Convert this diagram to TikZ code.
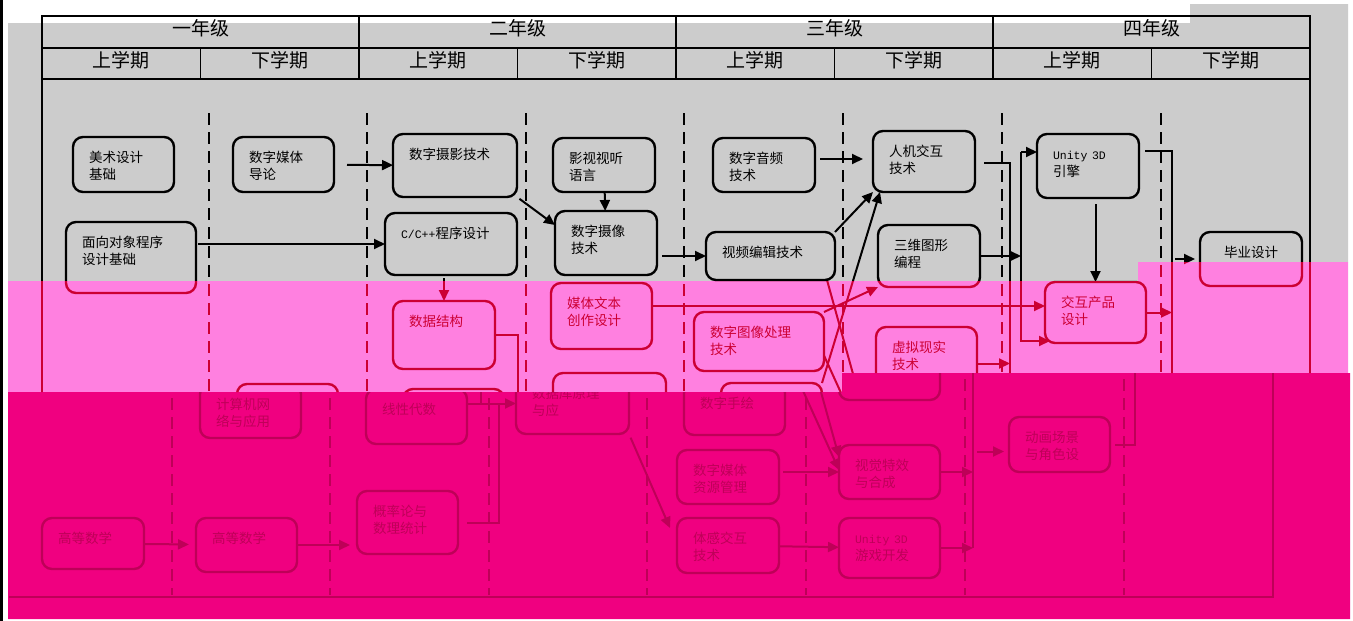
\documentclass[tikz,border=0pt]{standalone}
\usepackage{fontspec}
\setmainfont{Noto Sans CJK SC}
\newfontfamily\monofont{Liberation Mono}
\usetikzlibrary{arrows.meta}

\definecolor{bandgray}{RGB}{204,204,204}
\definecolor{bandpink}{RGB}{255,128,224}
\definecolor{bandmag}{RGB}{240,0,128}
\definecolor{inkpink}{RGB}{204,0,51}
\definecolor{inkmag}{RGB}{190,0,88}
\colorlet{ink}{black}

\newcommand\chartband{1}
\newcommand\bandtext[2]{\ifnum\chartband=#1\relax#2\fi}
\newcommand\monotext[1]{{\monofont\fontsize{11.5}{17.5}\selectfont #1}}

\newcommand\drawchart{%
  % frame and header
  \draw[frame_style] (42,16) rectangle (1310,597);
  \draw[grid_style] (42,48) -- (1310,48);
  \draw[grid_style] (42,79) -- (1310,79);
  \foreach \x in {359,676,993} \draw[grid_style] (\x,16) -- (\x,79);
  \foreach \x in {200.5,517.5,834.5,1151.5} \draw[grid_style] (\x,48) -- (\x,79);
  \foreach \grade [count=\i] in {一年级,二年级,三年级,四年级}
    \node[head_style] (year\i) at ({200.5+317*(\i-1)},28) {\bandtext1{\grade}};
  \foreach \grade [count=\i] in {上学期,下学期,上学期,下学期,上学期,下学期,上学期,下学期}
    \node[head_style] (term\i) at ({42+158.5*(\i-0.5)},60) {\bandtext1{\grade}};
  \foreach \x in {209,367,526,684,843,1002,1161} \draw[dash_style] (\x,113) -- (\x,595);
  % courses
  \node[course_style, text width=69pt, text depth=30pt] (meishu) at (73,137) {\bandtext1{美术设计\\基础}};
  \node[course_style, text width=69pt, text depth=30pt] (meiti) at (233,137) {\bandtext1{数字媒体\\导论}};
  \node[course_style, text width=92pt, text depth=38pt] (sheying) at (393,134) {\bandtext1{数字摄影技术}};
  \node[course_style, text width=98pt, text depth=46pt] (mianxiang) at (66,222) {\bandtext1{面向对象程序\\设计基础}};
  \node[course_style, text width=100pt, text depth=37pt] (cpp) at (385,213) {\bandtext1{\monotext{C/C++}程序设计}};
  \node[course_style, text width=70pt, text depth=29pt] (shiting) at (553,138) {\bandtext1{影视视听\\语言}};
  \node[course_style, text width=70pt, text depth=39pt] (shexiang) at (555,211) {\bandtext1{数字摄像\\技术}};
  \node[course_style, text width=70pt, text depth=29pt] (yinpin) at (713,138) {\bandtext1{数字音频\\技术}};
  \node[course_style, text width=97pt, text depth=23pt] (bianji) at (706,232) {\bandtext1{视频编辑技术}};
  \node[course_style, text width=70pt, text depth=36pt] (renji) at (873,131) {\bandtext1{人机交互\\技术}};
  \node[course_style, text width=70pt, text depth=37pt] (sanwei) at (878,225) {\bandtext1{三维图形\\编程}};
  \node[course_style, text width=70pt, text depth=39pt] (unity) at (1037,134) {\bandtext1{\monotext{Unity 3D}\\引擎}};
  \node[course_style, text width=70pt, text depth=29pt, align=center] (biye) at (1200,232) {\bandtext1{毕业设计}};
  \node[course_style, text width=70pt, text depth=43pt] (shuju) at (393,301) {\bandtext2{数据结构}};
  \node[course_style, text width=69pt, text depth=41pt] (wenben) at (551,283) {\bandtext2{媒体文本\\创作设计}};
  \node[course_style, text width=98pt, text depth=34pt] (tuxiang) at (694,312) {\bandtext2{数字图像处理\\技术}};
  \node[course_style, text width=69pt, text depth=48pt] (xuni) at (876,327) {\bandtext2{虚拟现实\\技术}};
  \node[course_style, text width=69pt, text depth=36pt] (jiaohu) at (1045,282) {\bandtext2{交互产品\\设计}};
  \node[course_style, text width=69pt, text depth=29pt] (jisuanji) at (237,384) {\bandtext3{计算机网\\络与应用}};
  \node[course_style, text width=69pt, text depth=30pt] (xianxing) at (403,389) {\bandtext3{线性代数}};
  \node[course_style, text width=81pt, text depth=36pt] (shujuku) at (553,373) {\bandtext3{数据库原理\\与应}};
  \node[course_style, text width=69pt, text depth=27pt] (shouhui) at (721,383) {\bandtext3{数字手绘}};
  \node[course_style, text width=70pt, text depth=26pt] (gaoshu1) at (79,518) {\bandtext3{高等数学}};
  \node[course_style, text width=69pt, text depth=29pt] (gaoshu2) at (233,518) {\bandtext3{高等数学}};
  \node[course_style, text width=69pt, text depth=38pt] (gailv) at (394,491) {\bandtext3{概率论与\\数理统计}};
  \node[course_style, text width=70pt, text depth=29pt] (ziyuan) at (714,450) {\bandtext3{数字媒体\\资源管理}};
  \node[course_style, text width=70pt, text depth=30pt] (tigan) at (714,518) {\bandtext3{体感交互\\技术}};
  \node[course_style, text width=69pt, text depth=29pt] (texiao) at (876,445) {\bandtext3{视觉特效\\与合成}};
  \node[course_style, text width=69pt, text depth=35pt] (youxi) at (876,518) {\bandtext3{\monotext{Unity 3D}\\游戏开发}};
  \node[course_style, text width=69pt, text depth=30pt] (donghua) at (1046,417) {\bandtext3{动画场景\\与角色设}};
  % joints of the collecting lines
  \coordinate (bus_a) at (1010,163);
  \coordinate (bus_b) at (1021,152);
  \coordinate (bus_c) at (1172,151);
  \coordinate (ku_a) at (518,336);
  \coordinate (ku_b) at (536,518);
  % prerequisites
  \draw[arrow_style, shorten <=13pt] (meiti) -- (sheying);
  \draw[arrow_style, shorten <=2pt] (mianxiang.east |- cpp) -- (cpp.west);
  \draw[arrow_style, shorten <=3pt] (cpp.south -| shuju) -- (shuju.north);
  \draw[arrow_style, shorten <=3pt] (sheying.south east) -- ([yshift=-14pt]shexiang.north west);
  \draw[arrow_style] (shiting) -- (shexiang);
  \draw[arrow_style, shorten <=5pt] (shexiang.east |- bianji) -- (bianji.west);
  \draw[arrow_style, shorten <=5pt, shorten >=10pt] ([yshift=6pt]yinpin.east) -- ([yshift=6pt]yinpin.east -| renji.west);
  \draw[arrow_style] (bianji.north east) -- (renji.south west);
  \draw[arrow_style] (shouhui.north east) -- ([xshift=7pt]renji.south west);
  \draw[arrow_style] (tuxiang.north east) -- (sanwei.south west);
  \draw[arrow_style] ([xshift=-8pt]bianji.south east) -- ([yshift=-12pt]texiao.north west);
  \draw[arrow_style] ([yshift=-14pt]tuxiang.east) -- ([yshift=-25pt]texiao.north west);
  \draw[arrow_style] ([yshift=10pt]wenben.east) -- ([yshift=10pt]wenben.east -| jiaohu.west);
  \draw[line_style] (shuju.east) -| (shujuku.west -| ku_a);
  \draw[line_style, shorten <=9pt] (gailv.east) -| (shujuku.west -| ku_b);
  \draw[arrow_style] (xianxing.east |- shujuku.west) -- (shujuku.west);
  \draw[arrow_style, shorten <=4pt] (shujuku.south east) -- ([xshift=-7pt, yshift=-10pt]tigan.north west);
  \draw[arrow_style, shorten >=7pt] (gaoshu1) -- (gaoshu2);
  \draw[arrow_style, shorten >=7pt] (gaoshu2.east) -- (gaoshu2.east -| gailv.west);
  \draw[arrow_style, shorten <=4pt] (ziyuan.east |- texiao.west) -- (texiao.west);
  \draw[arrow_style] (tigan) -- (youxi);
  % collecting lines
  \draw[line_style, shorten <=9pt] (renji.east |- bus_a) -- (bus_a) -- (bus_a |- youxi.east);
  \draw[arrow_style] (xuni.east) -- (xuni.east -| bus_a);
  \draw[arrow_style] (texiao.east) -- (texiao.east -| bus_a);
  \draw[arrow_style] (youxi.east) -- (youxi.east -| bus_a);
  \draw[arrow_style, shorten <=4pt, shorten >=5pt] ([yshift=-7pt]donghua.west -| bus_a) -- ([yshift=-7pt]donghua.west);
  \draw[arrow_style] (bus_b) -- (bus_b -| unity.west);
  \draw[arrow_style] (bus_b) -- ([yshift=2pt]bus_b |- jiaohu.south west) -- ([xshift=5pt, yshift=2pt]jiaohu.south west);
  \draw[arrow_style] (sanwei.east) -- (sanwei.east -| bus_b);
  \draw[arrow_style, shorten <=6pt] (unity.south -| jiaohu.north) -- (jiaohu.north);
  \draw[line_style, shorten <=6pt, shorten >=5pt] ([yshift=15pt]unity.east) -- (bus_c) -- (bus_c |- donghua.east) -- (donghua.east);
  \draw[arrow_style] (jiaohu.east) -- (jiaohu.east -| bus_c);
  \draw[arrow_style, shorten <=3pt, shorten >=5pt] (biye.west -| bus_c) -- (biye.west);
}

\begin{document}
\begin{tikzpicture}[x=1pt, y=-1pt,
    course_style/.style={draw=ink, text=ink, line width=2.4pt, rounded corners=10pt,
                         anchor=north west, align=left, inner xsep=16pt, inner ysep=0pt,
                         outer sep=0pt, text height=25pt,
                         font=\fontsize{13.5}{17.5}\selectfont},
    head_style/.style={text=ink, inner sep=0pt, font=\fontsize{19}{19}\selectfont},
    arrow_style/.style={draw=ink, line width=2pt, -{Triangle[length=11pt,width=10pt]}},
    line_style/.style={draw=ink, line width=2pt},
    dash_style/.style={draw=ink, line width=1.6pt, dash pattern=on 12pt off 7pt},
    frame_style/.style={draw=ink, line width=2pt},
    grid_style/.style={draw=ink, line width=1.5pt}
  ]
  \useasboundingbox (0,0) rectangle (1353,621);
  % colour bands of the scan
  \fill[white] (0,0) rectangle (1353,621);
  \fill[bandgray] (8,23) -- (1190,23) -- (1190,4) -- (1348,4) -- (1348,262) -- (1138,262) -- (1138,281) -- (8,281) -- cycle;
  \fill[bandpink] (8,281) -- (1138,281) -- (1138,262) -- (1348,262) -- (1348,373) -- (842,373) -- (842,392) -- (8,392) -- cycle;
  \fill[bandmag] (8,392) -- (842,392) -- (842,373) -- (1350,373) -- (1350,619) -- (8,619) -- cycle;
  \begin{scope}
    \clip (0,0) -- (1353,0) -- (1353,262) -- (1138,262) -- (1138,281) -- (0,281) -- cycle;
    \colorlet{ink}{black}\renewcommand\chartband{1}
    \drawchart
  \end{scope}
  \begin{scope}
    \clip (0,281) -- (1138,281) -- (1138,262) -- (1353,262) -- (1353,373) -- (842,373) -- (842,392) -- (0,392) -- cycle;
    \colorlet{ink}{inkpink}\renewcommand\chartband{2}
    \drawchart
  \end{scope}
  \begin{scope}
    \clip (9,392) -- (842,392) -- (842,373) -- (1353,373) -- (1353,621) -- (9,621) -- cycle;
    \colorlet{ink}{inkmag}\renewcommand\chartband{3}
    \begin{scope}[xshift=-37pt]
      \drawchart
    \end{scope}
  \end{scope}
  \fill[black] (0,0) rectangle (3,621);
\end{tikzpicture}
\end{document}
